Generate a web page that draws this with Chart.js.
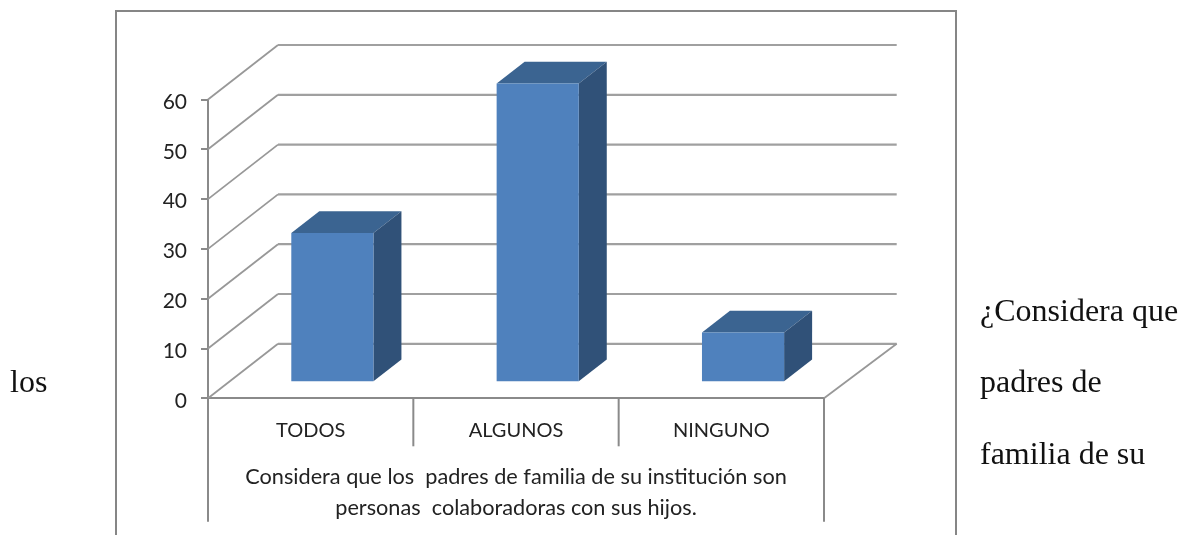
<!DOCTYPE html>
<html lang="es">
<head>
<meta charset="utf-8">
<title>Padres colaboradores</title>
<script src="https://cdn.jsdelivr.net/npm/chart.js@4/dist/chart.umd.min.js"></script>
<style>
html,body{margin:0;padding:0;background:#fff;width:1184px;height:535px;overflow:hidden}
#wrap{position:relative;width:1184px;height:535px}
canvas{position:absolute;left:0;top:0}
.frame{position:absolute;left:115px;top:10px;width:838px;height:530px;border:2px solid #868686;box-sizing:content-box}
.t{position:absolute;font-family:"Liberation Serif",serif;font-size:32px;line-height:36px;color:#111;white-space:nowrap}
</style>
</head>
<body>
<div id="wrap">
<div class="frame"></div>
<canvas id="c" width="1184" height="535"></canvas>
<span class="t" style="left:10px;top:363px">los</span>
<span class="t" style="left:980px;top:292px">¿Considera que</span>
<span class="t" style="left:980px;top:363px">padres de</span>
<span class="t" style="left:980px;top:435px">familia de su</span>
</div>
<script>
const categories = ["TODOS", "ALGUNOS", "NINGUNO"];
const values = [30, 60, 10];
const axisTitle = ["Considera que los  padres de familia de su institución son", "personas  colaboradoras con sus hijos."];
const yTicks = [0, 10, 20, 30, 40, 50, 60];

const wallDX = 70, wallRightDX = 72.7, wallDY = 54.5, barDX = 21.7, barDY = 16, depthDX = 28, depthDY = 21.7;
const lineColor = "#8a8a8a", wallColor = "#a0a0a0";

const depth3d = {
  id: "depth3d",
  beforeDatasetsDraw(chart) {
    const {ctx, chartArea: a, scales: {x, y}} = chart;
    ctx.save();
    yTicks.forEach(v => {
      const py = y.getPixelForValue(v);
      ctx.strokeStyle = "#989898"; ctx.lineWidth = 1.8;
      ctx.beginPath(); ctx.moveTo(a.left, py); ctx.lineTo(a.left + wallDX, py - wallDY); ctx.stroke();
      ctx.strokeStyle = wallColor; ctx.lineWidth = 2.2;
      ctx.beginPath(); ctx.moveTo(a.left + wallDX, py - wallDY); ctx.lineTo(a.right + wallRightDX, py - wallDY); ctx.stroke();
    });
    const p0 = y.getPixelForValue(0);
    ctx.strokeStyle = "#989898"; ctx.lineWidth = 1.8;
    ctx.beginPath(); ctx.moveTo(a.right, p0); ctx.lineTo(a.right + wallRightDX, p0 - wallDY); ctx.stroke();
    ctx.strokeStyle = lineColor; ctx.lineWidth = 2;
    const step = (a.right - a.left) / categories.length;
    for (let i = 1; i < categories.length; i++) {
      const px = a.left + step * i;
      ctx.beginPath(); ctx.moveTo(px, p0); ctx.lineTo(px, p0 + 48); ctx.stroke();
    }
    [a.left, a.right].forEach(px => {
      ctx.beginPath(); ctx.moveTo(px, p0); ctx.lineTo(px, p0 + 123.5); ctx.stroke();
    });
    ctx.restore();
    ctx.save();
    ctx.translate(barDX, -barDY);
    chart.getDatasetMeta(0).data.forEach(b => {
      const l = b.x - b.width / 2, r = b.x + b.width / 2, t = b.y, bt = b.base;
      ctx.fillStyle = "#3b6491";
      ctx.beginPath(); ctx.moveTo(l, t); ctx.lineTo(l + depthDX, t - depthDY); ctx.lineTo(r + depthDX, t - depthDY); ctx.lineTo(r, t); ctx.closePath(); ctx.fill();
      ctx.fillStyle = "#305178";
      ctx.beginPath(); ctx.moveTo(r, t); ctx.lineTo(r + depthDX, t - depthDY); ctx.lineTo(r + depthDX, bt - depthDY); ctx.lineTo(r, bt); ctx.closePath(); ctx.fill();
    });
    ctx.restore();
    ctx.save();
    ctx.translate(barDX, -barDY);
  },
  afterDatasetsDraw(chart) { chart.ctx.restore(); }
};

new Chart(document.getElementById("c"), {
  type: "bar",
  data: {
    labels: categories,
    datasets: [{
      label: "Respuestas",
      data: values,
      backgroundColor: "#4f81bd",
      borderWidth: 0,
      barPercentage: 0.8,
      categoryPercentage: 0.5,
      clip: false
    }]
  },
  plugins: [depth3d],
  options: {
    responsive: false,
    animation: false,
    layout: {padding: {top: 99.5, right: 360, left: 0, bottom: 0}},
    plugins: {legend: {display: false}, tooltip: {enabled: false}, title: {display: false}},
    scales: {
      x: {
        afterFit(s) { s.height = 136.7; },
        grid: {display: false},
        border: {display: true, color: lineColor, width: 2},
        ticks: {color: "#222", font: {family: "Lato", size: 20}, padding: 12, maxRotation: 0},
        title: {
          display: true, text: axisTitle, color: "#222",
          font: {family: "Lato", size: 21.7, lineHeight: 1.4},
          padding: {top: 0, bottom: 12}
        }
      },
      y: {
        min: 0, max: 60,
        afterFit(s) { s.width = 208; },
        grid: {drawOnChartArea: false, drawTicks: true, tickLength: 7, color: lineColor, lineWidth: 2},
        border: {display: true, color: lineColor, width: 2},
        ticks: {stepSize: 10, color: "#222", font: {family: "Lato", size: 21}, padding: 14, labelOffset: 2.5}
      }
    }
  }
});
</script>
</body>
</html>
